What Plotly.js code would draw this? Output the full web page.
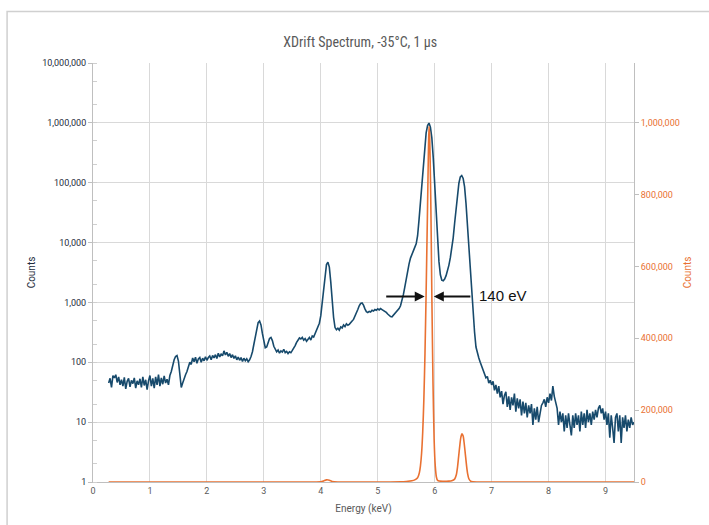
<!DOCTYPE html>
<html>
<head>
<meta charset="utf-8">
<script src="https://cdn.plot.ly/plotly-3.0.1.min.js"></script>
<style>html,body{margin:0;padding:0;background:#fff;}#chart{width:709px;height:525px;}</style>
</head>
<body>
<div id="chart"></div>
<script>
// Blue spectrum (log axis): energy in keV, counts
const energyKeV = [
0.275,0.300,0.325,0.350,0.375,0.400,0.425,0.450,0.475,0.500,0.525,0.550,0.575,0.600,0.625,0.650,0.675,0.700,0.725,0.750,0.775,0.800,0.825,0.850,0.875,0.900,0.925,0.950,0.975,1.000,
1.025,1.050,1.075,1.100,1.125,1.150,1.175,1.200,1.225,1.250,1.275,1.300,1.325,1.350,1.375,1.400,1.425,1.450,1.475,1.500,1.525,1.550,1.575,1.600,1.625,1.650,1.675,1.700,1.725,1.750,
1.775,1.800,1.825,1.850,1.875,1.900,1.925,1.950,1.975,2.000,2.025,2.050,2.075,2.100,2.125,2.150,2.175,2.200,2.225,2.250,2.275,2.300,2.325,2.350,2.375,2.400,2.425,2.450,2.475,2.500,
2.525,2.550,2.575,2.600,2.625,2.650,2.675,2.700,2.725,2.750,2.775,2.800,2.825,2.850,2.875,2.900,2.925,2.950,2.975,3.000,3.025,3.050,3.075,3.100,3.125,3.150,3.175,3.200,3.225,3.250,
3.275,3.300,3.325,3.350,3.375,3.400,3.425,3.450,3.475,3.500,3.525,3.550,3.575,3.600,3.625,3.650,3.675,3.700,3.725,3.750,3.775,3.800,3.825,3.850,3.875,3.900,3.925,3.950,3.975,4.000,
4.025,4.050,4.075,4.100,4.125,4.150,4.175,4.200,4.225,4.250,4.275,4.300,4.325,4.350,4.375,4.400,4.425,4.450,4.475,4.500,4.525,4.550,4.575,4.600,4.625,4.650,4.675,4.700,4.725,4.750,
4.775,4.800,4.825,4.850,4.875,4.900,4.925,4.950,4.975,5.000,5.025,5.050,5.075,5.100,5.125,5.150,5.175,5.200,5.225,5.250,5.275,5.300,5.325,5.350,5.375,5.400,5.425,5.450,5.475,5.500,
5.525,5.550,5.575,5.600,5.625,5.650,5.675,5.700,5.725,5.750,5.775,5.800,5.825,5.850,5.875,5.900,5.925,5.950,5.975,6.000,6.025,6.050,6.075,6.100,6.125,6.150,6.175,6.200,6.225,6.250,
6.275,6.300,6.325,6.350,6.375,6.400,6.425,6.450,6.475,6.500,6.525,6.550,6.575,6.600,6.625,6.650,6.675,6.700,6.725,6.750,6.775,6.800,6.825,6.850,6.875,6.900,6.925,6.950,6.975,7.000,
7.025,7.050,7.075,7.100,7.125,7.150,7.175,7.200,7.225,7.250,7.275,7.300,7.325,7.350,7.375,7.400,7.425,7.450,7.475,7.500,7.525,7.550,7.575,7.600,7.625,7.650,7.675,7.700,7.725,7.750,
7.775,7.800,7.825,7.850,7.875,7.900,7.925,7.950,7.975,8.000,8.025,8.050,8.075,8.100,8.125,8.150,8.175,8.200,8.225,8.250,8.275,8.300,8.325,8.350,8.375,8.400,8.425,8.450,8.475,8.500,
8.525,8.550,8.575,8.600,8.625,8.650,8.675,8.700,8.725,8.750,8.775,8.800,8.825,8.850,8.875,8.900,8.925,8.950,8.975,9.000,9.025,9.050,9.075,9.100,9.125,9.150,9.175,9.200,9.225,9.250,
9.275,9.300,9.325,9.350,9.375,9.400,9.425,9.450,9.475,9.500
];
const countsLog = [
45,54,38,60,55,62,46,57,42,51,40,56,36,48,54,39,50,44,55,37,49,42,53,38,57,41,51,35,49,60,
40,54,37,57,42,62,40,55,43,59,45,52,42,60,70,90,110,125,130,105,70,38,45,55,62,70,85,100,92,118,
102,122,96,114,120,100,117,106,124,108,120,127,110,130,118,134,116,142,123,137,128,155,133,147,126,140,120,134,116,128,
110,122,108,120,103,117,106,114,102,110,125,150,200,280,380,460,490,420,300,210,175,180,210,250,260,230,185,165,150,160,
142,155,148,165,145,152,140,150,145,158,170,190,215,230,255,245,260,235,248,225,240,260,235,275,265,300,330,380,450,600,
1000,1800,3000,4300,4700,3900,2200,1000,560,380,350,370,345,390,375,420,395,440,415,430,470,490,520,580,650,760,880,960,980,900,
780,700,680,710,690,740,720,760,740,780,750,790,760,740,720,680,640,600,580,575,610,640,690,730,790,880,1050,1350,1800,2500,
3400,4400,5500,6500,7400,8300,9500,13000,24000,50000,110000,230000,420000,680000,900000,990000,850000,560000,260000,100000,35000,11000,4800,2900,2350,2300,2450,2800,3300,4200,
5600,7800,12000,21000,38000,65000,98000,125000,132000,118000,85000,45000,20000,8000,3200,1300,600,320,180,140,118,100,85,72,65,55,58,45,50,42,
48,34,42,30,40,26,33,20,28,32,18,27,16,26,19,30,15,25,17,24,13,22,14,21,12,19,14,20,9,17,
11,18,10,15,19,21,24,18,26,21,30,23,40,27,21,17,9,15,10,14,7,13,8,14,9,6,13,8,14,9,
13,7,15,9,14,8,16,10,14,9,15,11,16,12,17,19,14,17,11,15,9,14,5.5,13,8,4.5,12,14,7,13,
4.5,12,8,13,7,11,8,12,9,10
];

// Orange spectrum (linear right axis)
const energyLin = [
0.275,3.90,4.00,4.05,4.10,4.15,4.20,4.30,5.40,5.50,5.60,5.65,5.70,5.73,5.75,5.77,5.79,5.81,5.83,5.85,5.87,5.88,5.89,5.90,5.91,5.92,5.93,5.94,5.95,5.97,
5.99,6.01,6.03,6.05,6.08,6.15,6.25,6.30,6.35,6.38,6.40,6.42,6.44,6.46,6.48,6.50,6.52,6.54,6.56,6.58,6.60,6.63,6.67,6.75,9.50
];
const countsLin = [
0,0,500,3000,6000,5000,1500,0,500,1500,3500,6000,12000,25000,45000,80000,140000,230000,360000,530000,720000,820000,920000,990000,970000,900000,800000,670000,520000,280000,
120000,45000,14000,5000,2500,2000,2500,3500,8000,20000,40000,70000,100000,125000,134000,128000,105000,75000,45000,22000,9000,2500,500,0,0
];

const leftTicks = [1,10,100,1000,10000,100000,1000000,10000000];
const rightTicks = [0,200000,400000,600000,800000,1000000];

const blue = '#174a6c';
const orange = '#E97132';
const gray = '#595959';
const grid = '#d9d9d9';
const baseFont = 'Roboto, "Liberation Sans", Arial, sans-serif';

const traces = [
  {x: energyKeV, y: countsLog, type: 'scatter', mode: 'lines', line: {color: blue, width: 1.6}, yaxis: 'y', hoverinfo: 'skip'},
  {x: energyLin, y: countsLin, type: 'scatter', mode: 'lines', line: {color: orange, width: 1.6, shape: 'spline', smoothing: 0.6}, yaxis: 'y2', hoverinfo: 'skip'}
];

const layout = {
  width: 709, height: 525,
  margin: {l: 93, r: 74.5, t: 63, b: 43},
  paper_bgcolor: '#fff', plot_bgcolor: '#fff',
  showlegend: false,
  font: {family: baseFont, color: gray, size: 9},
  title: {text: 'XDrift Spectrum, -35°C, 1 µs', font: {family: '"Liberation Sans Narrow", "Roboto Condensed", Roboto, sans-serif', size: 14, color: gray}, x: 0.508, xref: 'container', y: 0.92, yref: 'container', yanchor: 'middle'},
  xaxis: {
    range: [0, 9.5], tickmode: 'linear', tick0: 0, dtick: 1,
    showgrid: true, gridcolor: grid, gridwidth: 1,
    showline: true, linecolor: '#bfbfbf', linewidth: 1, mirror: false,
    ticks: '', zeroline: false,
    tickfont: {size: 9, color: gray},
    title: {text: 'Energy (keV)', font: {size: 10, color: gray}, standoff: 10}
  },
  yaxis: {
    type: 'log', range: [0, 7],
    tickvals: leftTicks, tickformat: ',d',
    showgrid: true, gridcolor: grid, gridwidth: 1,
    showline: true, linecolor: '#bfbfbf', linewidth: 1,
    ticks: 'outside', ticklen: 4, tickcolor: '#bfbfbf',
    minor: {ticks: 'inside', ticklen: 4, tickcolor: '#cfcfcf', showgrid: false},
    zeroline: false,
    tickfont: {size: 9, color: '#1f2d3d'},
    title: {text: 'Counts', font: {size: 10, color: '#1f2d3d'}, standoff: 4}
  },
  yaxis2: {
    overlaying: 'y', side: 'right',
    range: [0, 1166667],
    tickvals: rightTicks, tickformat: ',d',
    showgrid: false, zeroline: false,
    showline: true, linecolor: '#bfbfbf', linewidth: 1,
    ticks: 'outside', ticklen: 4, tickcolor: '#bfbfbf',
    tickfont: {size: 9, color: orange},
    title: {text: 'Counts', font: {size: 10, color: orange}, standoff: 5}
  },
  annotations: [
    {x: 5.825, y: 3.1, xref: 'x', yref: 'y', ax: -40, ay: 0, axref: 'pixel', ayref: 'pixel', showarrow: true, arrowhead: 2, arrowsize: 1, arrowwidth: 2, arrowcolor: '#111', text: ''},
    {x: 5.985, y: 3.1, xref: 'x', yref: 'y', ax: 38, ay: 0, axref: 'pixel', ayref: 'pixel', showarrow: true, arrowhead: 2, arrowsize: 1, arrowwidth: 2, arrowcolor: '#111', text: ''},
    {x: 7.2, y: 3.12, xref: 'x', yref: 'y', text: '140 eV', showarrow: false, font: {family: '"Liberation Sans", Arial, sans-serif', size: 15, color: '#111'}}
  ],
  shapes: [
    {type: 'rect', xref: 'paper', yref: 'paper', x0: -0.1588, x1: 1.15, y0: -0.12, y1: 1.1229, line: {color: '#d0d0d0', width: 1.5}, fillcolor: 'rgba(0,0,0,0)', layer: 'below'}
  ]
};

Plotly.newPlot('chart', traces, layout, {staticPlot: true, displayModeBar: false});
</script>
</body>
</html>
